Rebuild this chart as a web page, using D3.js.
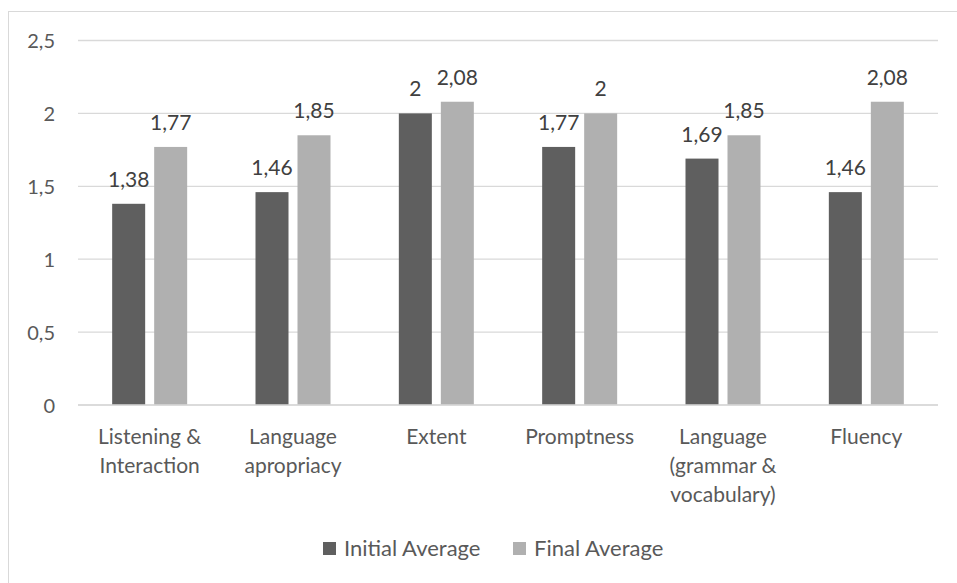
<!DOCTYPE html>
<html>
<head>
<meta charset="utf-8">
<script src="https://cdn.jsdelivr.net/npm/d3@7"></script>
<style>
  html, body { margin: 0; padding: 0; background: #fff; }
  svg text { font-family: Lato, "Open Sans", sans-serif; fill: #595959; }
</style>
</head>
<body>
<svg id="chart" width="957" height="583"></svg>
<script>
// Categories, series and axis ticks
const categories = [
  ["Listening &", "Interaction"],
  ["Language", "apropriacy"],
  ["Extent"],
  ["Promptness"],
  ["Language", "(grammar &", "vocabulary)"],
  ["Fluency"]
];
const initialAverage = [1.38, 1.46, 2, 1.77, 1.69, 1.46];
const finalAverage   = [1.77, 1.85, 2.08, 2, 1.85, 2.08];
const seriesNames = ["Initial Average", "Final Average"];
const seriesColors = ["#5f5f5f", "#b0b0b0"];
const yTicks = [0, 0.5, 1, 1.5, 2, 2.5];

const fmt = v => String(v).replace(".", ",");

const svg = d3.select("#chart");
const W = 957, H = 583;
const plot = { left: 78, right: 938, top: 40.5, bottom: 405 };

// Outer chart frame
svg.append("rect")
  .attr("x", 8.5).attr("y", 11.5)
  .attr("width", W + 10).attr("height", H + 10)
  .attr("fill", "none").attr("stroke", "#d9d9d9");

const x0 = d3.scaleBand()
  .domain(d3.range(categories.length))
  .range([plot.left, plot.right])
  .paddingInner(0).paddingOuter(0);

const y = d3.scaleLinear().domain([0, 2.5]).range([plot.bottom, plot.top]);

// Gridlines
svg.append("g").selectAll("line")
  .data(yTicks)
  .join("line")
  .attr("x1", plot.left).attr("x2", plot.right)
  .attr("y1", d => y(d)).attr("y2", d => y(d))
  .attr("stroke", "#d9d9d9").attr("stroke-width", 1.3);

// Y axis labels
const yAxis = d3.axisLeft(y).tickValues(yTicks).tickFormat(fmt).tickSize(0).tickPadding(0);
const yg = svg.append("g").attr("transform", `translate(55,0)`).call(yAxis);
yg.select(".domain").remove();
yg.selectAll("text").attr("font-size", 20).attr("fill", "#595959")
  .style("font-family", "Lato, sans-serif").attr("dy", "0.35em");

// Bars within each category
const barW = 33, barGap = 9;
const x1 = d3.scaleOrdinal().domain([0, 1]).range([-(barW + barGap / 2), barGap / 2]);
const series = [initialAverage, finalAverage];

series.forEach((vals, s) => {
  const g = svg.append("g");
  g.selectAll("rect")
    .data(vals)
    .join("rect")
    .attr("x", (d, i) => x0(i) + x0.bandwidth() / 2 + x1(s))
    .attr("y", d => y(d))
    .attr("width", barW)
    .attr("height", d => y(0) - y(d))
    .attr("fill", seriesColors[s]);
  g.selectAll("text")
    .data(vals)
    .join("text")
    .attr("x", (d, i) => x0(i) + x0.bandwidth() / 2 + x1(s) + barW / 2)
    .attr("y", d => y(d) - 17)
    .attr("text-anchor", "middle")
    .attr("font-size", 21)
    .style("fill", "#404040")
    .text(fmt);
});

// Baseline
svg.append("line")
  .attr("x1", plot.left).attr("x2", plot.right)
  .attr("y1", y(0)).attr("y2", y(0))
  .attr("stroke", "#d9d9d9").attr("stroke-width", 1.3);

// Category labels
const cl = svg.append("g").selectAll("text")
  .data(categories)
  .join("text")
  .attr("text-anchor", "middle")
  .attr("font-size", 21)
  .attr("x", (d, i) => x0(i) + x0.bandwidth() / 2)
  .attr("y", 444);
cl.selectAll("tspan")
  .data(d => d)
  .join("tspan")
  .attr("x", function () { return d3.select(this.parentNode).attr("x"); })
  .attr("dy", (d, i) => i === 0 ? 0 : 29)
  .text(d => d);

// Legend
const legendX = [323, 513];
const lg = svg.append("g");
seriesNames.forEach((name, s) => {
  lg.append("rect")
    .attr("x", legendX[s]).attr("y", 542)
    .attr("width", 13).attr("height", 13)
    .attr("fill", seriesColors[s]);
  lg.append("text")
    .attr("x", legendX[s] + 21).attr("y", 556)
    .attr("font-size", 22)
    .text(name);
});
</script>
</body>
</html>
